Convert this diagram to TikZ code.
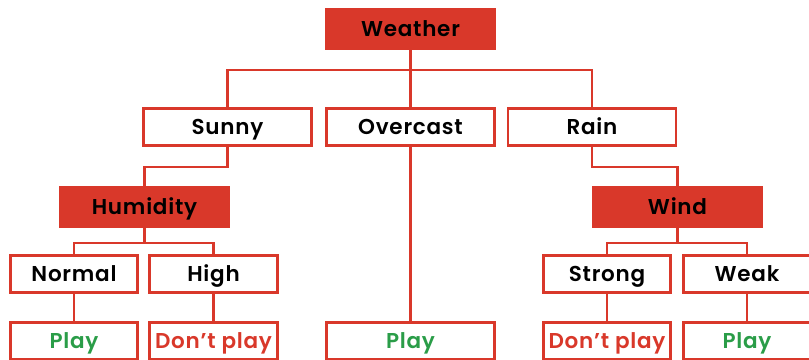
\documentclass[tikz,border=0pt]{standalone}
\usepackage{fontspec}
\setmainfont{Poppins}[BoldFont={* SemiBold},LetterSpace=3.5]
\definecolor{tred}{HTML}{D9382A}
\definecolor{tgreen}{HTML}{2A9D48}
\begin{document}
\begin{tikzpicture}[x=1pt,y=-1pt,
  box/.style={draw=tred,line width=2.7pt,fill=white,minimum height=37.5pt,
    inner sep=0pt,text height=15pt,text depth=0pt,
    font=\fontsize{21.5}{24}\selectfont\bfseries,text=black},
  wide/.style={minimum width=168pt},
  narrow/.style={minimum width=127.5pt},
  head/.style={box,fill=tred,minimum height=39.5pt},
  yes/.style={text=tgreen},
  no/.style={text=tred},
  link/.style={draw=tred,line width=2.7pt}]
\useasboundingbox (0,0) rectangle (809,359);
% nodes
\node[head,wide] (weather) at (410.5,29) {Weather};
\node[box,wide] (sunny) at (227.5,127) {Sunny};
\node[box,wide] (overcast) at (410.5,127) {Overcast};
\node[box,wide] (rain) at (592,127) {Rain};
\node[head,wide] (humidity) at (144.5,207) {Humidity};
\node[head,wide] (wind) at (677.5,207) {Wind};
\node[box,narrow] (normal) at (74,274) {Normal};
\node[box,narrow] (high) at (213.5,274) {High};
\node[box,narrow] (strong) at (607,274) {Strong};
\node[box,narrow] (weak) at (747,274) {Weak};
\node[box,narrow,yes] (p1) at (74,341) {Play};
\node[box,narrow,no] (d1) at (213.5,341) {Don’t play};
\node[box,wide,yes] (p2) at (410.5,341) {Play};
\node[box,narrow,no] (d2) at (607,341) {Don’t play};
\node[box,narrow,yes] (p3) at (747,341) {Play};
% bars
\coordinate (b1) at (0,70);
\coordinate (b2) at (0,167);
\coordinate (b3) at (0,243);
% connectors
\draw[link] (weather.south) -- (overcast.north);
\draw[link] (sunny.north) -- (sunny.north |- b1) -- (rain.north |- b1) -- (rain.north);
\draw[link] (sunny.south) -- (sunny.south |- b2) -- (humidity.north |- b2) -- (humidity.north);
\draw[link] (rain.south) -- (rain.south |- b2) -- (wind.north |- b2) -- (wind.north);
\draw[link] (humidity.south) -- (humidity.south |- b3);
\draw[link] (normal.north) -- (normal.north |- b3) -- (high.north |- b3) -- (high.north);
\draw[link] (wind.south) -- (wind.south |- b3);
\draw[link] (strong.north) -- (strong.north |- b3) -- (weak.north |- b3) -- (weak.north);
\draw[link] (overcast.south) -- (p2.north);
\draw[link] (normal.south) -- (p1.north);
\draw[link] (high.south) -- (d1.north);
\draw[link] (strong.south) -- (d2.north);
\draw[link] (weak.south) -- (p3.north);
\end{tikzpicture}
\end{document}
